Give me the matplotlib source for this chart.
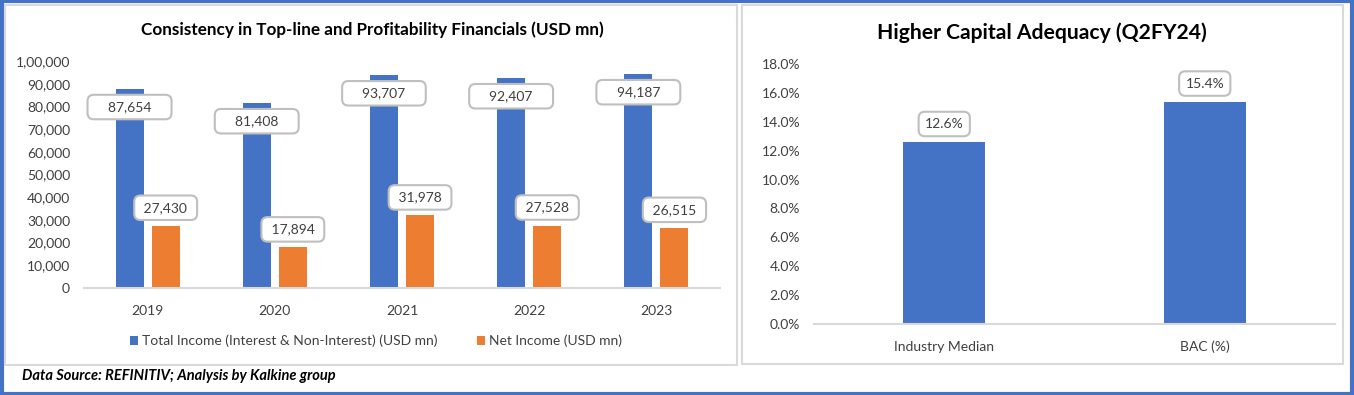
import numpy as np
import matplotlib.pyplot as plt
from matplotlib.patches import Rectangle
from matplotlib.ticker import FuncFormatter, MultipleLocator

years = ['2019', '2020', '2021', '2022', '2023']
total_income = [87654, 81408, 93707, 92407, 94187]
net_income = [27430, 17894, 31978, 27528, 26515]
cap_labels = ['Industry Median', 'BAC (%)']
cap_values = [12.6, 15.4]

BLUE = '#4472C4'
ORANGE = '#ED7D31'
GRID = '#D9D9D9'
TXT = '#404040'
FONT = 'Lato'

plt.rcParams['font.family'] = [FONT, 'DejaVu Sans']

W, H = 1354, 395
fig = plt.figure(figsize=(W / 100, H / 100), dpi=100)


def fx(px):
    return px / W


def fy(py):
    return 1 - py / H


def indian(v, pos=None):
    s = str(int(round(v)))
    if len(s) <= 3:
        return s
    last3, rest = s[-3:], s[:-3]
    groups = []
    while len(rest) > 2:
        groups.insert(0, rest[-2:])
        rest = rest[:-2]
    if rest:
        groups.insert(0, rest)
    return ','.join(groups + [last3])


def boxed(ax, x, y, text, dy, fs):
    ax.annotate(text, (x, y), xytext=(0, dy), textcoords='offset pixels',
                ha='center', va='center', fontsize=fs, color=TXT,
                bbox=dict(boxstyle='round,pad=0.45,rounding_size=0.45',
                          fc='white', ec='#BFBFBF', lw=1.5))


# panel frames
fig.patches.append(Rectangle((0.0015, 0.003), 0.997, 0.994, transform=fig.transFigure,
                             fill=False, ec=BLUE, lw=3))
fig.patches.append(Rectangle((fx(5), fy(365)), fx(732), 360 / H, transform=fig.transFigure,
                             fill=False, ec=GRID, lw=1.5))
fig.patches.append(Rectangle((fx(742), fy(364)), fx(601), 359 / H, transform=fig.transFigure,
                             fill=False, ec=GRID, lw=1.5))

# left chart
ax1 = fig.add_axes([fx(84), fy(288), fx(636), 227 / H])
x = np.arange(len(years))
ax1.bar(x - 0.142, total_income, width=0.22, color=BLUE,
        label='Total Income (Interest & Non-Interest) (USD mn)')
ax1.bar(x + 0.142, net_income, width=0.22, color=ORANGE, label='Net Income (USD mn)')
ax1.set_xlim(-0.5, len(years) - 0.5)
ax1.set_ylim(0, 100000)
ax1.yaxis.set_major_locator(MultipleLocator(10000))
ax1.yaxis.set_major_formatter(FuncFormatter(indian))
ax1.set_xticks(x)
ax1.set_xticklabels(years)
for i in range(len(years)):
    boxed(ax1, x[i] - 0.142, total_income[i], '    ' + f'{total_income[i]:,}' + '    ', -18, 10)
    boxed(ax1, x[i] + 0.142, net_income[i], ' ' + f'{net_income[i]:,}' + ' ', 18, 10)
fig.text(fx(372), fy(30), 'Consistency in Top-line and Profitability Financials (USD mn)',
         fontsize=12.3, fontweight='bold', ha='center', va='center')
h, l = ax1.get_legend_handles_labels()
fig.legend(h, l, loc='center', bbox_to_anchor=(fx(376), fy(341)), ncol=2,
           frameon=False, fontsize=10, handlelength=0.6, handleheight=0.6,
           handletextpad=0.3, columnspacing=2.8, labelcolor=TXT)

# right chart
ax2 = fig.add_axes([fx(814), fy(324), fx(521), 260 / H])
x2 = np.arange(len(cap_labels))
ax2.bar(x2, cap_values, width=0.315, color=BLUE)
ax2.set_xlim(-0.5, len(cap_labels) - 0.5)
ax2.set_ylim(0, 18)
ax2.yaxis.set_major_locator(MultipleLocator(2))
ax2.yaxis.set_major_formatter(FuncFormatter(lambda v, p: f'{v:.1f}%'))
ax2.set_xticks(x2)
ax2.set_xticklabels(cap_labels)
for i in range(len(cap_labels)):
    boxed(ax2, x2[i], cap_values[i], f'{cap_values[i]:.1f}%', 18, 10)
fig.text(fx(1042), fy(33), 'Higher Capital Adequacy (Q2FY24)',
         fontsize=15.2, fontweight='bold', ha='center', va='center')

for ax in (ax1, ax2):
    for s in ('top', 'right', 'left'):
        ax.spines[s].set_visible(False)
    ax.spines['bottom'].set_color(GRID)
    ax.spines['bottom'].set_linewidth(1.5)
    ax.tick_params(length=0, colors=TXT, labelsize=10)
    ax.tick_params(axis='y', pad=10)
    ax.tick_params(axis='x', pad=12)

fig.text(fx(22), fy(376), 'Data Source: REFINITIV; Analysis by Kalkine group',
         fontsize=10.5, fontweight='bold', style='italic', va='center', ha='left')

fig.savefig('out.png', dpi=100)
